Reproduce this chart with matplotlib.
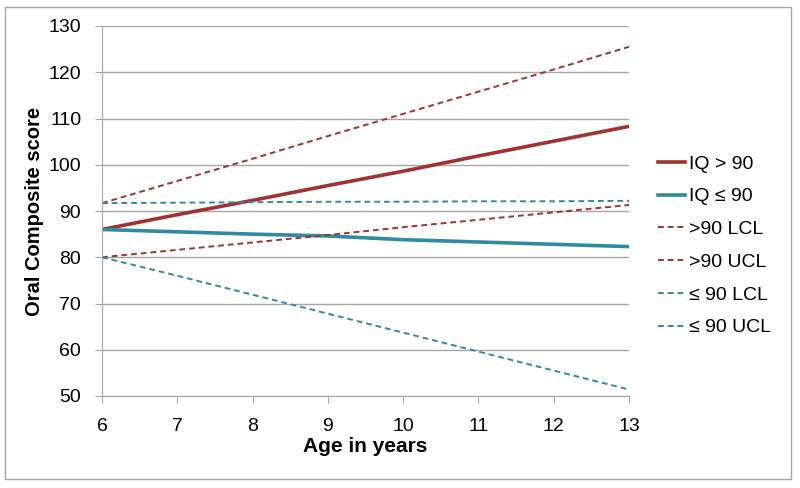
import matplotlib
matplotlib.use("Agg")
import matplotlib.pyplot as plt
from matplotlib.patches import Rectangle

plt.rcParams['font.family'] = ['Liberation Sans', 'DejaVu Sans']

ages = [6, 7, 8, 9, 10, 11, 12, 13]
iq_hi = [86, 89.2, 92.3, 95.5, 98.6, 101.9, 105.1, 108.3]
iq_lo = [86, 85.5, 85.0, 84.6, 83.8, 83.3, 82.8, 82.3]
hi_lcl = [80, 81.6, 83.2, 84.8, 86.5, 88.1, 89.7, 91.3]
hi_ucl = [91.7, 96.5, 101.3, 106.2, 111.0, 115.8, 120.6, 125.5]
lo_lcl = [80, 76.0, 71.9, 67.8, 63.7, 59.6, 55.5, 51.4]
lo_ucl = [91.7, 91.8, 91.9, 92.0, 92.0, 92.1, 92.1, 92.2]

red = '#A0322F'
teal = '#2F8AA3'

fig = plt.figure(figsize=(8, 4.88), dpi=100)
fig.patches.append(Rectangle((5/800, 1-479/488), 786/800, 472/488, transform=fig.transFigure,
                             fill=False, edgecolor='#A6A6A6', linewidth=1.0))
ax = fig.add_axes([102/800, 1-396/488, 527/800, 370/488])

ax.plot(ages, iq_hi, color=red, lw=2.6, label='IQ > 90')
ax.plot(ages, iq_lo, color=teal, lw=2.6, label='IQ ≤ 90')
ax.plot(ages, hi_lcl, color=red, lw=1.4, ls=(0, (3, 2)), label='>90 LCL')
ax.plot(ages, hi_ucl, color=red, lw=1.4, ls=(0, (3, 2)), label='>90 UCL')
ax.plot(ages, lo_lcl, color=teal, lw=1.4, ls=(0, (3, 2)), label='≤ 90 LCL')
ax.plot(ages, lo_ucl, color=teal, lw=1.4, ls=(0, (3, 2)), label='≤ 90 UCL')

ax.set_xlim(6, 13)
ax.set_ylim(50, 130)
ax.set_xticks(ages)
ax.set_yticks(range(50, 131, 10))
ax.grid(axis='y', color='#A6A6A6', lw=1.0)
ax.set_axisbelow(True)
for s in ['top', 'right']:
    ax.spines[s].set_visible(False)
for s in ['left', 'bottom']:
    ax.spines[s].set_color('#A6A6A6')
ax.tick_params(axis='both', direction='out', length=5, color='#A6A6A6', labelsize=14)
ax.tick_params(axis='y', pad=10)
ax.tick_params(axis='x', pad=11)

ax.set_xlabel('Age in years', fontsize=15, fontweight='bold', labelpad=1)
ax.set_ylabel('Oral Composite score', fontsize=14.5, fontweight='bold', labelpad=3)

ax.legend(loc='upper left', bbox_to_anchor=(658/800, 1-155/488), bbox_transform=fig.transFigure,
          frameon=False, fontsize=14, handlelength=1.4, handletextpad=0.2, labelspacing=0.78,
          borderaxespad=0, borderpad=0)

fig.savefig('out.png', dpi=100)
